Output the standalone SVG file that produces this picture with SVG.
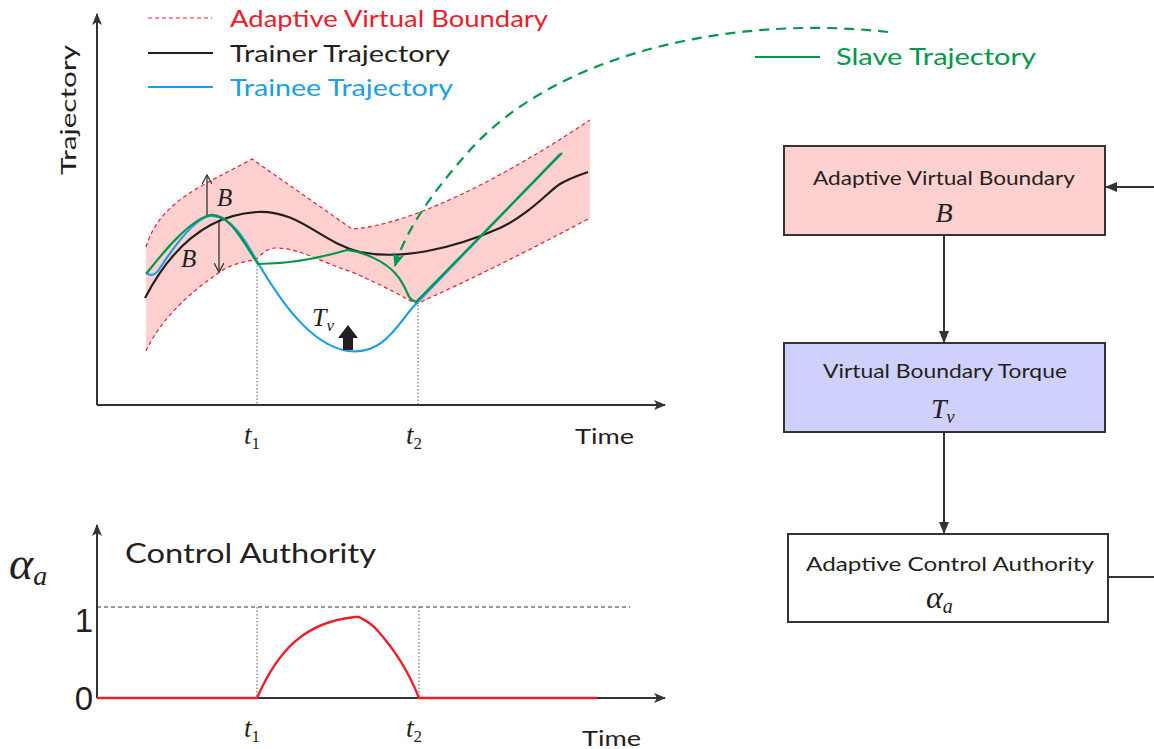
<svg xmlns="http://www.w3.org/2000/svg" width="1154" height="749" viewBox="0 0 1154 749">
  <defs>
    <style>
      .sans { font-family: "Lato", "Open Sans", "Liberation Sans", sans-serif; }
      .math { font-family: "Liberation Serif", "DejaVu Serif", serif; font-style: italic; }
      .axis { stroke: #333; stroke-width: 2; fill: none; }
      .dot { stroke: #555; stroke-width: 1; stroke-dasharray: 1.5 2; fill: none; }
      .box { stroke: #333; stroke-width: 2; }
      .conn { stroke: #333; stroke-width: 2; fill: none; }
      .bnd { stroke: #e8202a; stroke-width: 1.2; stroke-dasharray: 4 3; fill: none; }
    </style>
    <marker id="ax" viewBox="0 0 12 10" refX="11" refY="5" markerWidth="12" markerHeight="10" markerUnits="userSpaceOnUse" orient="auto">
      <path d="M0,0 L12,5 L0,10 L3,5 Z" fill="#333"/>
    </marker>
    <marker id="ar" viewBox="0 0 12 10" refX="11" refY="5" markerWidth="12" markerHeight="10" markerUnits="userSpaceOnUse" orient="auto">
      <path d="M0,0 L12,5 L0,10 Z" fill="#333"/>
    </marker>
    <marker id="thin" viewBox="0 0 10 10" refX="9" refY="5" markerWidth="10" markerHeight="10" markerUnits="userSpaceOnUse" orient="auto">
      <path d="M0,0 L9,5 L0,10" fill="none" stroke="#333" stroke-width="1.3"/>
    </marker>
    <marker id="gr" viewBox="0 0 12 10" refX="11" refY="5" markerWidth="14" markerHeight="12" markerUnits="userSpaceOnUse" orient="auto">
      <path d="M0,0 L12,5 L0,10 L3,5 Z" fill="#00984a"/>
    </marker>
  </defs>

  <!-- trajectory plot -->
  <g id="trajectory-plot">
    <!-- boundary band -->
    <path d="M146,247 C160,200 205,185 252,159 L352,229 C410,225 500,180 590,120 L590,218 C530,250 470,280 416,304 C395,292 375,282 352,272 C320,262 300,248 275,248 C265,249 260,256 255,260 C240,262 228,266 220,272 C190,292 160,320 146,351 Z" fill="#ffd0d0"/>
    <path class="bnd" d="M146,247 C160,200 205,185 252,159 L352,229 C410,225 500,180 590,120"/>
    <path class="bnd" d="M146,351 C160,320 190,292 220,272 C228,266 240,262 255,260 C260,256 265,249 275,248 C300,248 320,262 352,272 C375,282 395,292 416,304 C470,280 530,250 590,218"/>

    <line class="dot" x1="257" y1="262" x2="257" y2="405"/>
    <line class="dot" x1="418" y1="305" x2="418" y2="405"/>

    <!-- trainer -->
    <path d="M145,298 C170,250 205,215 257,212 C300,210 320,242 360,252 C400,260 450,250 500,228 C530,214 550,190 560,184 C570,178 580,175 588,172" fill="none" stroke="#231f20" stroke-width="2.2"/>
    <!-- trainee -->
    <path d="M147,273 C150,276 155,276 160,268 C175,245 195,218 210,216 C232,214 248,245 258,263 C280,300 310,345 348,351 C385,356 400,320 415,305 L560,154" fill="none" stroke="#1aa0e0" stroke-width="2.2"/>
    <!-- slave -->
    <path d="M146,274 C165,250 190,220 210,215 C230,213 245,245 258,264 C290,264 320,258 347,250 C365,252 385,262 395,273 C410,290 405,298 416,302 L562,153" fill="none" stroke="#00984a" stroke-width="2.2"/>

    <!-- boundary width arrows -->
    <line x1="207" y1="215" x2="207" y2="175" stroke="#333" stroke-width="1.3" marker-end="url(#thin)"/>
    <line x1="219" y1="222" x2="219" y2="272" stroke="#333" stroke-width="1.3" marker-end="url(#thin)"/>
    <text class="math" x="217" y="206" font-size="25" fill="#231f20">B</text>
    <text class="math" x="181" y="267" font-size="25" fill="#231f20">B</text>

    <!-- torque arrow -->
    <path d="M348,325 L358,338 L353,338 L353,350 L343,350 L343,338 L338,338 Z" fill="#231f20"/>
    <text class="math" x="312" y="326" font-size="26" fill="#231f20">T<tspan font-size="17" dy="5">v</tspan></text>

    <!-- axes -->
    <line class="axis" x1="97" y1="405" x2="97" y2="14" marker-end="url(#ax)"/>
    <line class="axis" x1="97" y1="405" x2="665" y2="405" marker-end="url(#ax)"/>
    <text class="math" x="244" y="444" font-size="27" fill="#231f20">t<tspan font-size="17" dy="5" font-style="normal">1</tspan></text>
    <text class="math" x="406" y="444" font-size="27" fill="#231f20">t<tspan font-size="17" dy="5" font-style="normal">2</tspan></text>
    <text class="sans" x="575" y="444" font-size="22" fill="#231f20" textLength="59" lengthAdjust="spacingAndGlyphs">Time</text>
    <text class="sans" transform="translate(76,175) rotate(-90)" font-size="22" fill="#231f20" textLength="130" lengthAdjust="spacingAndGlyphs">Trajectory</text>
  </g>

  <!-- legend -->
  <g id="legend">
    <line x1="148" y1="18" x2="212" y2="18" stroke="#e8202a" stroke-width="1.2" stroke-dasharray="4 3"/>
    <text class="sans" x="230" y="27" font-size="24" fill="#e8202a" textLength="318" lengthAdjust="spacingAndGlyphs">Adaptive Virtual Boundary</text>
    <line x1="148" y1="53" x2="213" y2="53" stroke="#231f20" stroke-width="2"/>
    <text class="sans" x="230" y="62" font-size="24" fill="#231f20" textLength="220" lengthAdjust="spacingAndGlyphs">Trainer Trajectory</text>
    <line x1="148" y1="87" x2="213" y2="87" stroke="#1aa0e0" stroke-width="2"/>
    <text class="sans" x="230" y="96" font-size="24" fill="#1aa0e0" textLength="223" lengthAdjust="spacingAndGlyphs">Trainee Trajectory</text>
    <line x1="755" y1="57" x2="820" y2="57" stroke="#00984a" stroke-width="2"/>
    <text class="sans" x="836" y="65" font-size="24" fill="#00984a" textLength="200" lengthAdjust="spacingAndGlyphs">Slave Trajectory</text>
  </g>

  <!-- control authority plot -->
  <g id="authority-plot">
    <line x1="97" y1="607" x2="630" y2="607" stroke="#333" stroke-width="1" stroke-dasharray="4 3"/>
    <line class="dot" x1="257" y1="607" x2="257" y2="698"/>
    <line class="dot" x1="419" y1="607" x2="419" y2="698"/>
    <line class="axis" x1="97" y1="698" x2="97" y2="525" marker-end="url(#ax)"/>
    <line class="axis" x1="97" y1="698" x2="665" y2="698" marker-end="url(#ax)"/>
    <path d="M97,698 L257,698 C278,650 305,622 355,617 L359,617 C364,620 370,622 377,630 C395,650 410,675 419,698 L597,698" fill="none" stroke="#e8202a" stroke-width="2.4"/>
    <text x="84" y="632" font-family="Liberation Sans, Arial, sans-serif" font-size="33" fill="#231f20" text-anchor="middle">1</text>
    <text x="84" y="710" font-family="Liberation Sans, Arial, sans-serif" font-size="33" fill="#231f20" text-anchor="middle">0</text>
    <text class="math" x="9" y="579" font-size="46" fill="#231f20">α<tspan font-size="28" dy="6">a</tspan></text>
    <text class="sans" x="125" y="563" font-size="26" fill="#231f20" textLength="251" lengthAdjust="spacingAndGlyphs">Control Authority</text>
    <text class="math" x="244" y="737" font-size="27" fill="#231f20">t<tspan font-size="17" dy="5" font-style="normal">1</tspan></text>
    <text class="math" x="406" y="737" font-size="27" fill="#231f20">t<tspan font-size="17" dy="5" font-style="normal">2</tspan></text>
    <text class="sans" x="582" y="746" font-size="22" fill="#231f20" textLength="59" lengthAdjust="spacingAndGlyphs">Time</text>
  </g>

  <!-- block diagram -->
  <g id="node-boundary">
    <rect class="box" x="784" y="146" width="321" height="89" fill="#ffd0d0"/>
    <text class="sans" x="813" y="185" font-size="19" fill="#231f20" textLength="262" lengthAdjust="spacingAndGlyphs">Adaptive Virtual Boundary</text>
    <text class="math" x="944" y="222" font-size="28" fill="#231f20" text-anchor="middle">B</text>
  </g>
  <g id="node-torque">
    <rect class="box" x="784" y="343" width="321" height="89" fill="#d0d0fc"/>
    <text class="sans" x="823" y="378" font-size="19" fill="#231f20" textLength="244" lengthAdjust="spacingAndGlyphs">Virtual Boundary Torque</text>
    <text class="math" x="931" y="418" font-size="28" fill="#231f20">T<tspan font-size="18" dy="5">v</tspan></text>
  </g>
  <g id="node-authority">
    <rect class="box" x="788" y="534" width="320" height="88" fill="#ffffff"/>
    <text class="sans" x="806" y="571" font-size="19" fill="#231f20" textLength="288" lengthAdjust="spacingAndGlyphs">Adaptive Control Authority</text>
    <text class="math" x="926" y="608" font-size="32" fill="#231f20">α<tspan font-size="20" dy="5">a</tspan></text>
  </g>

  <!-- connectors -->
  <g id="connectors">
    <line class="conn" x1="944" y1="235" x2="944" y2="342" marker-end="url(#ar)"/>
    <line class="conn" x1="944" y1="432" x2="944" y2="533" marker-end="url(#ar)"/>
    <line class="conn" x1="1154" y1="187" x2="1106" y2="187" marker-end="url(#ar)"/>
    <line class="conn" x1="1108" y1="577" x2="1154" y2="577"/>
    <path d="M888,32 C740,15 560,50 470,150 C430,195 405,232 395,266" fill="none" stroke="#00984a" stroke-width="2.2" stroke-dasharray="10 7" marker-end="url(#gr)"/>
  </g>
</svg>
